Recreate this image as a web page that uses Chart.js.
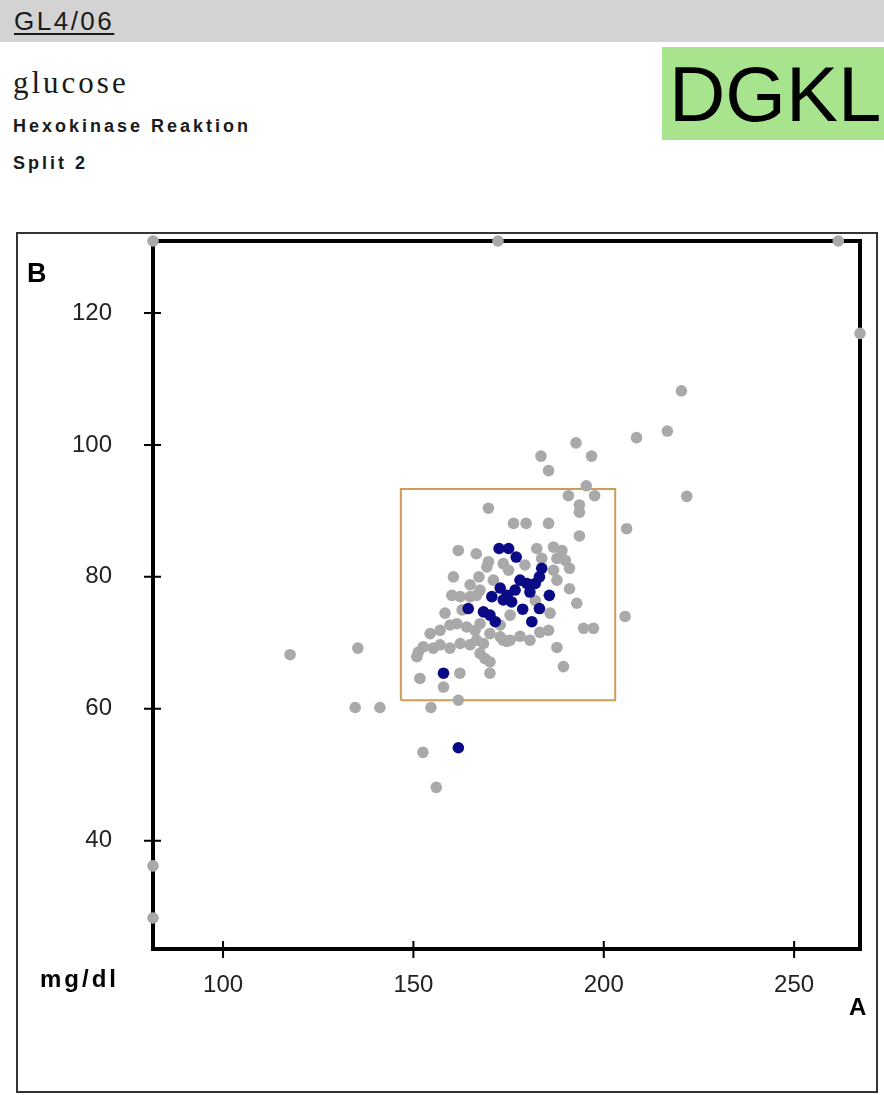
<!DOCTYPE html>
<html>
<head>
<meta charset="utf-8">
<title>GL4/06 glucose</title>
<script src="https://cdn.jsdelivr.net/npm/chart.js@4.4.1/dist/chart.umd.min.js"></script>
<style>
  html, body { margin: 0; padding: 0; background: #fff; }
  body { position: relative; width: 884px; height: 1095px; overflow: hidden; font-family: "Liberation Sans", Arial, sans-serif; color: #1a1a1a; }
  .bar { position: absolute; left: 0; top: 0; width: 884px; height: 42px; background: #d3d3d3; }
  .code { position: absolute; left: 14px; top: 6px; font-size: 26px; line-height: 30px; letter-spacing: 2.5px; text-decoration: underline; text-underline-offset: 3px; }
  .analyte { position: absolute; left: 13px; top: 65px; font-family: "Liberation Serif", serif; font-size: 31px; line-height: 35px; letter-spacing: 3px; }
  .method, .split { position: absolute; left: 13px; font-size: 18px; line-height: 20px; font-weight: bold; letter-spacing: 3px; }
  .method { top: 116px; }
  .split { top: 153px; }
  .logo { position: absolute; left: 662px; top: 47px; width: 222px; height: 93px; background: #a8e48e; }
  .logo span { position: absolute; left: 7px; top: 2px; font-size: 78px; line-height: 90px; color: #000; }
  .frame { position: absolute; left: 16px; top: 232px; width: 862px; height: 861px; box-sizing: border-box; border: 2px solid #333; }
  #chart { position: absolute; left: 0; top: 0; z-index: 2; }
</style>
</head>
<body>
<div class="bar"></div>
<div class="code">GL4/06</div>
<div class="analyte">glucose</div>
<div class="method">Hexokinase Reaktion</div>
<div class="split">Split 2</div>
<div class="logo"><span>DGKL</span></div>
<div class="frame"></div>
<canvas id="chart" width="884" height="1095"></canvas>
<script>
// All participants: result of sample A vs sample B (mg/dl)
const allA = [81.6,172.2,261.6,267.3,81.6,81.6,117.6,135.4,134.7,141.2,154.6,161.8,152.5,156.0,
  220.4,216.7,208.6,192.7,196.8,183.5,185.5,221.8,195.4,190.7,197.6,193.6,193.6,169.7,176.3,179.6,
  185.5,206.0,193.6,161.8,166.5,182.4,186.8,189.0,183.7,187.7,189.9,169.7,160.5,191.0,186.8,191.0,
  187.7,192.9,205.6,160.1,162.3,164.9,166.6,167.5,158.3,185.9,185.5,194.7,197.3,187.7,189.4,154.4,
  157.0,159.6,161.4,164.0,166.2,167.5,170.1,172.8,174.5,151.3,152.6,155.2,157.0,159.6,162.3,164.9,
  166.6,168.4,150.9,167.5,168.8,170.1,170.1,151.7,162.2,157.9,173.6,175.4,167.2,169.3,171.0,173.6,
  175.0,164.9,179.3,182.0,175.4,172.8,183.2,180.6,178.0,162.8];
const allB = [130.9,130.9,130.9,116.9,36.2,28.3,68.2,69.2,60.2,60.2,60.2,61.3,53.4,48.1,
  108.2,102.1,101.1,100.3,98.3,98.3,96.1,92.2,93.8,92.3,92.3,90.9,89.8,90.4,88.1,88.1,
  88.1,87.3,86.2,84.0,83.5,84.3,84.5,84.0,82.8,82.8,82.5,82.3,80.0,81.3,81.0,78.2,
  79.5,76.0,74.0,77.2,77.0,77.0,77.2,78.0,74.5,74.5,71.9,72.2,72.2,69.3,66.4,71.4,
  71.9,72.7,72.9,72.4,71.9,72.9,71.4,70.9,70.2,68.6,69.4,69.2,69.7,69.2,69.9,69.7,
  70.4,69.9,67.9,68.4,67.6,67.1,65.4,64.6,65.4,63.3,70.4,70.4,80.0,81.5,79.5,82.0,
  81.0,78.8,81.8,76.4,74.2,72.7,71.6,70.4,71.0,75.0];

// Highlighted group (same method)
const methodA = [172.5,175.0,177.0,183.7,183.1,178.0,176.7,179.8,172.8,170.6,173.6,175.8,164.4,
  168.4,170.1,171.5,178.7,183.1,181.1,185.7,157.9,161.8,182.0,180.6,174.6];
const methodB = [84.3,84.3,83.0,81.3,80.0,79.5,78.0,79.0,78.3,77.0,76.5,76.2,75.2,
  74.7,74.2,73.2,75.1,75.2,73.2,77.2,65.4,54.1,79.0,77.7,77.2];

// Acceptance range (A, B) and axis extents
const rangeA = [146.7, 203.0];
const rangeB = [61.3, 93.3];
const axisA = [81.6, 267.3];
const axisB = [23.6, 130.9];
const ticksA = [100, 150, 200, 250];
const ticksB = [40, 60, 80, 100, 120];

const toPoints = (xs, ys) => xs.map((x, i) => ({ x, y: ys[i] }));
const rangeBox = [
  { x: rangeA[0], y: rangeB[0] }, { x: rangeA[1], y: rangeB[0] },
  { x: rangeA[1], y: rangeB[1] }, { x: rangeA[0], y: rangeB[1] },
  { x: rangeA[0], y: rangeB[0] }
];

Chart.defaults.font.family = '"Liberation Sans", Arial, sans-serif';

// Thick plot frame with crossing tick marks, plus the axis captions
const framePlugin = {
  id: 'frame',
  beforeDatasetsDraw(chart) {
    const { ctx, chartArea: a, scales } = chart;
    ctx.save();
    ctx.strokeStyle = '#000';
    ctx.lineWidth = 4;
    ctx.strokeRect(a.left, a.top, a.right - a.left, a.bottom - a.top);
    ctx.lineWidth = 2;
    ctx.beginPath();
    ticksA.forEach(v => {
      const px = scales.x.getPixelForValue(v);
      ctx.moveTo(px, a.bottom - 8); ctx.lineTo(px, a.bottom + 9);
    });
    ticksB.forEach(v => {
      const py = scales.y.getPixelForValue(v);
      ctx.moveTo(a.left - 9, py); ctx.lineTo(a.left + 8, py);
    });
    ctx.stroke();
    ctx.restore();
  },
  afterDraw(chart) {
    const { ctx, chartArea: a } = chart;
    ctx.save();
    ctx.fillStyle = '#000';
    ctx.textBaseline = 'alphabetic';
    ctx.textAlign = 'left';
    ctx.font = 'bold 27px "Liberation Sans", Arial, sans-serif';
    ctx.fillText('B', a.left - 126, a.top + 41);
    ctx.font = 'bold 24px "Liberation Sans", Arial, sans-serif';
    ctx.letterSpacing = '3px';
    ctx.fillText('mg/dl', 40, a.bottom + 38);
    ctx.letterSpacing = '0px';
    ctx.font = 'bold 24px "Liberation Sans", Arial, sans-serif';
    ctx.fillText('A', a.right - 11, a.bottom + 66);
    ctx.restore();
  }
};

new Chart(document.getElementById('chart'), {
  type: 'scatter',
  data: {
    datasets: [
      {
        label: 'Methode',
        data: toPoints(methodA, methodB),
        backgroundColor: '#0a0a86',
        borderColor: '#0a0a86',
        borderWidth: 0,
        pointRadius: 5.8,
        clip: false
      },
      {
        label: 'Alle',
        data: toPoints(allA, allB),
        backgroundColor: '#a9a9a9',
        borderColor: '#a9a9a9',
        borderWidth: 0,
        pointRadius: 5.8,
        clip: false
      },
      {
        label: 'Bereich',
        data: rangeBox,
        showLine: true,
        borderColor: '#cf9b5a',
        borderWidth: 2,
        pointRadius: 0,
        fill: false,
        tension: 0
      }
    ]
  },
  options: {
    responsive: false,
    animation: false,
    events: [],
    layout: { padding: { left: 0, top: 241, right: 24, bottom: 0 } },
    plugins: { legend: { display: false }, tooltip: { enabled: false } },
    scales: {
      x: {
        type: 'linear',
        min: axisA[0], max: axisA[1],
        grid: { display: false, drawTicks: false },
        border: { display: false },
        afterBuildTicks: s => { s.ticks = ticksA.map(v => ({ value: v })); },
        afterFit: s => { s.height = 1095 - 949; },
        ticks: { padding: 22, color: '#222', font: { size: 24 }, maxRotation: 0 }
      },
      y: {
        type: 'linear',
        min: axisB[0], max: axisB[1],
        grid: { display: false, drawTicks: false },
        border: { display: false },
        afterBuildTicks: s => { s.ticks = ticksB.map(v => ({ value: v })); },
        afterFit: s => { s.width = 153; },
        ticks: { padding: 41, color: '#222', font: { size: 24 } }
      }
    }
  },
  plugins: [framePlugin]
});
</script>
</body>
</html>
